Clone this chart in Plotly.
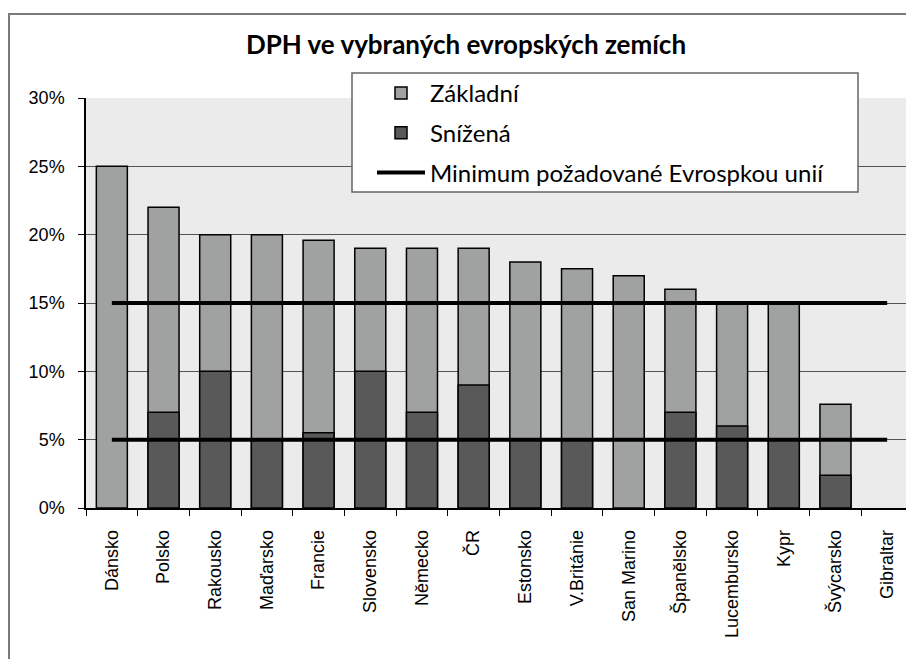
import plotly.graph_objects as go

countries = ["Dánsko", "Polsko", "Rakousko", "Maďarsko", "Francie", "Slovensko", "Německo", "ČR",
             "Estonsko", "V.Británie", "San Marino", "Španělsko", "Lucembursko", "Kypr", "Švýcarsko", "Gibraltar"]
zakladni = [25, 22, 20, 20, 19.6, 19, 19, 19, 18, 17.5, 17, 16, 15, 15, 7.6, None]
snizena = [None, 7, 10, 5, 5.5, 10, 7, 9, 5, 5, None, 7, 6, 5, 2.4, None]
minimum_levels = [15, 5]
y_ticks = [0, 5, 10, 15, 20, 25, 30]
y_tick_labels = [f"{v}%" for v in y_ticks]

# page body has an 8px margin; figure is sized to fit the 914x659 window
OFF = 8
VW, VH = 914, 659
W, H = VW - OFF, VH - OFF
# plot area in window pixels
PL, PR, PT, PB = 86, 913, 98, 508
L, R, T, B = PL - OFF, W - (PR - OFF), PT - OFF, H - (PB - OFF)
PW, PH = W - L - R, H - T - B

def px_x(px):
    return (px - PL) / PW

def px_y(py):
    return (PB - py) / PH

fig = go.Figure()
fig.add_trace(go.Bar(x=countries, y=zakladni, name="Základní",
                     marker=dict(color="#a0a2a1", line=dict(color="#000000", width=1.5)),
                     width=0.6, legendgroup="a"))
fig.add_trace(go.Bar(x=countries, y=snizena, name="Snížená",
                     marker=dict(color="#595959", line=dict(color="#000000", width=1.5)),
                     width=0.6, legendgroup="b"))

lx, ly = [], []
for lv in minimum_levels:
    lx += [countries[0], countries[-1], None]
    ly += [lv, lv, None]
fig.add_trace(go.Scatter(x=lx, y=ly, mode="lines", name="Minimum požadované Evrospkou unií",
                         line=dict(color="#000000", width=4), legendgroup="c", connectgaps=False))

tick_font = dict(family="Liberation Sans, Arial, sans-serif", size=18, color="#000000")

fig.update_layout(
    width=W, height=H,
    margin=dict(l=L, r=R, t=T, b=B, autoexpand=False),
    paper_bgcolor="#ffffff",
    plot_bgcolor="#ebebeb",
    barmode="overlay",
    bargap=0.4,
    showlegend=True,
    title=dict(text="<b>DPH ve vybraných evropských zemích</b>",
               font=dict(family="Lato, sans-serif", size=26, color="#000000"),
               x=(466 - OFF) / W, xref="container", xanchor="center",
               y=1 - (45 - OFF) / H, yref="container", yanchor="middle"),
    legend=dict(x=px_x(372), y=px_y(71), xanchor="left", yanchor="top",
                bgcolor="rgba(0,0,0,0)", borderwidth=0,
                font=dict(family="Lato, sans-serif", size=24, color="#000000"),
                tracegroupgap=5.5, itemwidth=48, traceorder="grouped"),
    xaxis=dict(type="category", categoryorder="array", categoryarray=countries,
               range=[-0.5, len(countries) - 0.5], automargin=False,
               showline=True, linecolor="#000000", linewidth=1.5,
               ticks="outside", tickson="boundaries", ticklen=6, tickcolor="#000000",
               tickangle=-90, tickfont=tick_font, ticklabelstandoff=13,
               showgrid=False, zeroline=False),
    yaxis=dict(range=[0, 30], tickmode="array", tickvals=y_ticks, ticktext=y_tick_labels,
               automargin=False,
               showline=True, linecolor="#000000", linewidth=1.5,
               ticks="outside", ticklen=6, tickcolor="#000000",
               tickfont=tick_font, ticklabelstandoff=10,
               showgrid=True, gridcolor="#555555", gridwidth=1, zeroline=False),
    shapes=[
        dict(type="rect", xref="paper", yref="paper",
             x0=px_x(OFF + 1), x1=1.05, y0=-0.6, y1=px_y(14),
             line=dict(color="#7a7a7a", width=2), fillcolor="rgba(0,0,0,0)", layer="below"),
        dict(type="rect", xref="paper", yref="paper",
             x0=px_x(352), x1=px_x(858), y0=px_y(192), y1=px_y(73),
             line=dict(color="#666666", width=1.5), fillcolor="#ffffff", layer="above"),
    ],
)

fig.write_html("out.html")
